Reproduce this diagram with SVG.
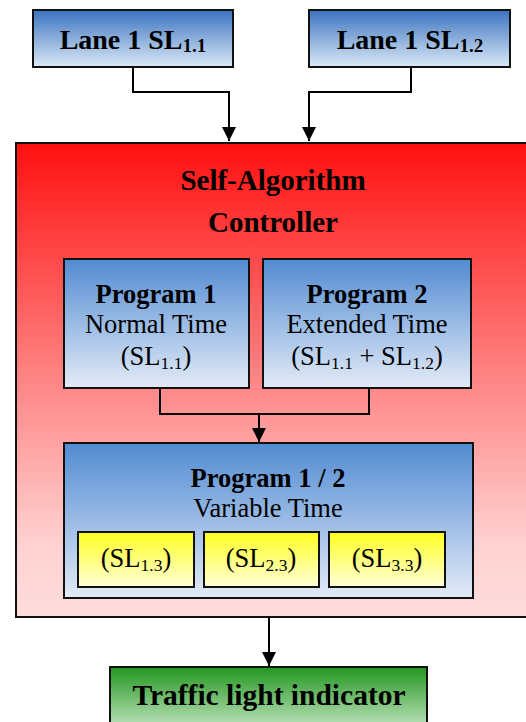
<svg xmlns="http://www.w3.org/2000/svg" width="526" height="722" viewBox="0 0 526 722">
<defs>
<linearGradient id="gLane" x1="0" y1="0" x2="0" y2="1"><stop offset="0" stop-color="#3a73c0"/><stop offset="1" stop-color="#dbe9f6"/></linearGradient>
<linearGradient id="gProg" x1="0" y1="0" x2="0" y2="1"><stop offset="0" stop-color="#528bd2"/><stop offset="1" stop-color="#e3ebf7"/></linearGradient>
<linearGradient id="gRed" x1="0" y1="0" x2="0" y2="1"><stop offset="0" stop-color="#ff1010"/><stop offset="0.5" stop-color="#ff8585"/><stop offset="0.85" stop-color="#ffd2d2"/><stop offset="1" stop-color="#ffdcdc"/></linearGradient>
<linearGradient id="gYel" x1="0" y1="0" x2="0" y2="1"><stop offset="0" stop-color="#ffff20"/><stop offset="1" stop-color="#ffffd8"/></linearGradient>
<linearGradient id="gGrn" x1="0" y1="0" x2="0" y2="1"><stop offset="0" stop-color="#22961e"/><stop offset="1" stop-color="#d6efd6"/></linearGradient>
<marker id="arr" viewBox="0 0 14 14" refX="14" refY="7" markerWidth="14" markerHeight="14" markerUnits="userSpaceOnUse" orient="auto"><path d="M0,0 L14,7 L0,14 Z" fill="#000"/></marker>
</defs>
<style>
.box{stroke:#111;stroke-width:2}
.b{font-family:"Liberation Serif","Times New Roman",serif;font-weight:bold;fill:#000;text-anchor:middle}
.r{font-family:"Liberation Serif","Times New Roman",serif;fill:#000;text-anchor:middle}
.sub{font-size:0.66em;font-weight:normal}
.subb{font-size:0.68em}
.c{fill:none;stroke:#000;stroke-width:2}
</style>
<g id="controller">
<rect class="box" x="16" y="143" width="520" height="474" fill="url(#gRed)"/>
<text class="b" x="273" y="190" font-size="29">Self-Algorithm</text>
<text class="b" x="273" y="232" font-size="29">Controller</text>
</g>
<g id="lane1">
<rect class="box" x="33" y="10" width="200" height="57" fill="url(#gLane)"/>
<text class="b" x="133" y="49" font-size="28">Lane 1 SL<tspan class="subb" dy="3">1.1</tspan></text>
</g>
<g id="lane2">
<rect class="box" x="309" y="10" width="201" height="57" fill="url(#gLane)"/>
<text class="b" x="410" y="49" font-size="28">Lane 1 SL<tspan class="subb" dy="3">1.2</tspan></text>
</g>
<g id="program1">
<rect class="box" x="64" y="259" width="185" height="129" fill="url(#gProg)"/>
<text class="b" x="156" y="303" font-size="26.5">Program 1</text>
<text class="r" x="156" y="333" font-size="26.5">Normal Time</text>
<text class="r" x="156" y="365" font-size="26.5">(SL<tspan class="sub" dy="4">1.1</tspan><tspan dy="-4">)</tspan></text>
</g>
<g id="program2">
<rect class="box" x="263" y="259" width="208" height="129" fill="url(#gProg)"/>
<text class="b" x="367" y="303" font-size="26.5">Program 2</text>
<text class="r" x="367" y="333" font-size="26.5">Extended Time</text>
<text class="r" x="367" y="365" font-size="26.5">(SL<tspan class="sub" dy="4">1.1</tspan><tspan dy="-4"> + SL</tspan><tspan class="sub" dy="4">1.2</tspan><tspan dy="-4">)</tspan></text>
</g>
<g id="program12">
<rect class="box" x="64" y="443" width="409" height="155" fill="url(#gProg)"/>
<text class="b" x="268" y="487" font-size="26.5">Program 1 / 2</text>
<text class="r" x="268" y="517" font-size="26.5">Variable Time</text>
</g>
<g id="sl13">
<rect class="box" x="78" y="532" width="116" height="55" fill="url(#gYel)"/>
<text class="r" x="136" y="567" font-size="26.5">(SL<tspan class="sub" dy="4">1.3</tspan><tspan dy="-4">)</tspan></text>
</g>
<g id="sl23">
<rect class="box" x="204" y="532" width="115" height="55" fill="url(#gYel)"/>
<text class="r" x="261" y="567" font-size="26.5">(SL<tspan class="sub" dy="4">2.3</tspan><tspan dy="-4">)</tspan></text>
</g>
<g id="sl33">
<rect class="box" x="329" y="532" width="116" height="55" fill="url(#gYel)"/>
<text class="r" x="387" y="567" font-size="26.5">(SL<tspan class="sub" dy="4">3.3</tspan><tspan dy="-4">)</tspan></text>
</g>
<g id="traffic">
<rect class="box" x="110" y="667" width="317" height="70" fill="url(#gGrn)"/>
<text class="b" x="269" y="705" font-size="29.5">Traffic light indicator</text>
</g>
<g id="connectors">
<path class="c" d="M133,67 V92 H229 V141" marker-end="url(#arr)"/>
<path class="c" d="M411,67 V92 H309 V141" marker-end="url(#arr)"/>
<path class="c" d="M160,388 V414 H369 V388"/>
<path class="c" d="M259,414 V442" marker-end="url(#arr)"/>
<path class="c" d="M269,617 V666" marker-end="url(#arr)"/>
</g>
</svg>
